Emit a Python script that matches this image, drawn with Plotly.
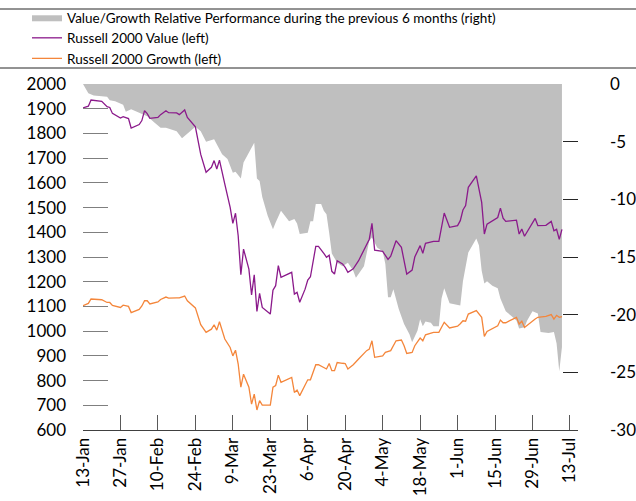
import plotly.graph_objects as go

# ---------------- data ----------------
LINE_DATES = [
    "2020-01-13", "2020-01-15", "2020-01-16", "2020-01-20", "2020-01-22", "2020-01-23", "2020-01-24",
    "2020-01-27", "2020-01-28", "2020-01-30", "2020-01-31", "2020-02-03", "2020-02-04", "2020-02-05",
    "2020-02-06", "2020-02-07", "2020-02-10", "2020-02-11", "2020-02-13", "2020-02-14", "2020-02-17",
    "2020-02-18", "2020-02-20", "2020-02-21", "2020-02-24", "2020-02-25", "2020-02-26", "2020-02-28",
    "2020-03-01", "2020-03-02", "2020-03-03", "2020-03-04", "2020-03-05", "2020-03-06", "2020-03-08",
    "2020-03-09", "2020-03-10", "2020-03-11", "2020-03-12", "2020-03-13", "2020-03-15", "2020-03-16",
    "2020-03-17", "2020-03-18", "2020-03-19", "2020-03-20", "2020-03-23", "2020-03-24", "2020-03-25",
    "2020-03-26", "2020-03-27", "2020-03-30", "2020-03-31", "2020-04-01", "2020-04-02", "2020-04-03",
    "2020-04-05", "2020-04-06", "2020-04-07", "2020-04-09", "2020-04-10", "2020-04-12", "2020-04-13",
    "2020-04-14", "2020-04-15", "2020-04-16", "2020-04-17", "2020-04-19", "2020-04-20", "2020-04-21",
    "2020-04-23", "2020-04-25", "2020-04-28", "2020-04-29", "2020-04-30", "2020-05-01", "2020-05-04",
    "2020-05-05", "2020-05-06", "2020-05-07", "2020-05-09", "2020-05-11", "2020-05-12", "2020-05-13",
    "2020-05-15", "2020-05-16", "2020-05-18", "2020-05-19", "2020-05-20", "2020-05-23", "2020-05-25",
    "2020-05-26", "2020-05-27", "2020-05-29", "2020-06-01", "2020-06-02", "2020-06-03", "2020-06-04",
    "2020-06-05", "2020-06-08", "2020-06-09", "2020-06-10", "2020-06-11", "2020-06-12", "2020-06-16",
    "2020-06-17", "2020-06-18", "2020-06-19", "2020-06-23", "2020-06-24", "2020-06-25", "2020-06-26",
    "2020-06-30", "2020-07-01", "2020-07-04", "2020-07-06", "2020-07-07", "2020-07-08", "2020-07-09",
    "2020-07-10",
]

RUSSELL_VALUE = [
    1903, 1910, 1935, 1930, 1908, 1905, 1881,
    1862, 1868, 1860, 1822, 1836, 1852, 1892,
    1880, 1861, 1865, 1876, 1892, 1884, 1883,
    1876, 1895, 1865, 1827, 1771, 1715, 1643,
    1663, 1690, 1656, 1692, 1636, 1595, 1501,
    1436, 1477, 1386, 1228, 1332, 1251, 1147,
    1228, 1080, 1153, 1096, 1069, 1166, 1184,
    1265, 1218, 1234, 1238, 1150, 1157, 1117,
    1170, 1207, 1220, 1343, 1343, 1315, 1299,
    1307, 1242, 1231, 1285, 1272, 1258, 1238,
    1252, 1285, 1352, 1372, 1436, 1328, 1323,
    1307, 1290, 1303, 1366, 1339, 1290, 1231,
    1247, 1300, 1346, 1315, 1355, 1363, 1363,
    1420, 1478, 1420, 1427, 1447, 1490, 1508,
    1582, 1628, 1575, 1521, 1393, 1433, 1460,
    1498, 1457, 1444, 1449, 1393, 1413, 1384,
    1456, 1427, 1428, 1444, 1406, 1412, 1371,
    1412,
]

RUSSELL_GROWTH = [
    1103, 1112, 1130, 1127, 1116, 1116, 1104,
    1096, 1105, 1100, 1075, 1088, 1102, 1123,
    1123, 1110, 1118, 1128, 1138, 1134, 1135,
    1135, 1142, 1123, 1094, 1056, 1026, 995,
    1008, 1026, 1004, 1038, 1002, 968, 934,
    900, 923, 867, 773, 826, 773, 705,
    745, 681, 719, 701, 701, 773, 780,
    822, 793, 806, 813, 752, 762, 739,
    780, 803, 803, 864, 864, 854, 847,
    869, 840, 840, 873, 870, 869, 847,
    864, 887, 921, 927, 961, 894, 900,
    914, 917, 921, 961, 964, 941, 910,
    914, 941, 972, 961, 985, 995, 995,
    1015, 1036, 1013, 1020, 1030, 1042, 1040,
    1069, 1083, 1069, 1056, 979, 999, 1022,
    1045, 1034, 1034, 1056, 1029, 1040, 1015,
    1049, 1056, 1060, 1067, 1049, 1064, 1056,
    1059,
]

REL_DATES = [
    "2020-01-13", "2020-01-15", "2020-01-17", "2020-01-22", "2020-01-23", "2020-01-25", "2020-01-28",
    "2020-01-29", "2020-01-31", "2020-02-03", "2020-02-06", "2020-02-09", "2020-02-11", "2020-02-13",
    "2020-02-17", "2020-02-19", "2020-02-21", "2020-02-23", "2020-02-24", "2020-02-26", "2020-02-28",
    "2020-03-02", "2020-03-05", "2020-03-07", "2020-03-09", "2020-03-10", "2020-03-12", "2020-03-13",
    "2020-03-15", "2020-03-17", "2020-03-18", "2020-03-19", "2020-03-20", "2020-03-22", "2020-03-24",
    "2020-03-25", "2020-03-27", "2020-03-28", "2020-03-29", "2020-03-30", "2020-04-01", "2020-04-02",
    "2020-04-03", "2020-04-06", "2020-04-07", "2020-04-08", "2020-04-09", "2020-04-11", "2020-04-12",
    "2020-04-13", "2020-04-14", "2020-04-15", "2020-04-17", "2020-04-19", "2020-04-21", "2020-04-23",
    "2020-04-24", "2020-04-26", "2020-04-27", "2020-04-29", "2020-04-30", "2020-05-02", "2020-05-04",
    "2020-05-05", "2020-05-06", "2020-05-07", "2020-05-08", "2020-05-10", "2020-05-12", "2020-05-14",
    "2020-05-15", "2020-05-17", "2020-05-18", "2020-05-19", "2020-05-20", "2020-05-22", "2020-05-23",
    "2020-05-25", "2020-05-26", "2020-05-27", "2020-05-29", "2020-06-02", "2020-06-03", "2020-06-05",
    "2020-06-08", "2020-06-09", "2020-06-10", "2020-06-11", "2020-06-12", "2020-06-14", "2020-06-16",
    "2020-06-17", "2020-06-19", "2020-06-21", "2020-06-23", "2020-06-24", "2020-06-26", "2020-06-27",
    "2020-06-29", "2020-07-01", "2020-07-02", "2020-07-05", "2020-07-07", "2020-07-08", "2020-07-09",
    "2020-07-10",
]

REL_PERF = [
    0.0, -0.8, -1.0, -1.1, -1.4, -1.5, -1.8,
    -2.4, -2.2, -2.5, -2.8, -3.4, -3.8, -3.8,
    -4.1, -4.7, -4.3, -3.9, -3.7, -4.1, -5.0,
    -4.8, -6.1, -6.5, -7.7, -7.6, -8.2, -6.8,
    -5.9, -5.1, -8.2, -8.4, -9.8, -11.4, -12.6,
    -12.0, -11.0, -11.3, -11.7, -11.9, -11.7, -12.1,
    -13.0, -12.9, -11.9, -11.9, -10.4, -10.4, -11.0,
    -11.3, -12.9, -14.7, -15.5, -15.8, -15.5, -16.2,
    -16.8, -16.2, -15.8, -13.6, -13.3, -14.2, -14.5,
    -15.6, -18.5, -18.5, -17.8, -19.5, -20.8, -21.7,
    -22.4, -21.4, -20.4, -21.0, -20.6, -20.7, -21.0,
    -21.0, -18.6, -17.7, -19.0, -19.2, -17.1, -14.6,
    -13.4, -14.0, -16.2, -17.3, -17.1, -17.5, -17.7,
    -18.6, -19.7, -20.1, -20.5, -21.2, -21.1, -20.5,
    -19.7, -19.9, -21.5, -21.6, -21.5, -22.5, -24.9,
    -22.8,
]

LEFT_TICKS = [600, 700, 800, 900, 1000, 1100, 1200, 1300, 1400, 1500, 1600, 1700, 1800, 1900, 2000]
RIGHT_TICKS = [-30, -25, -20, -15, -10, -5, 0]
RIGHT_LABELS = ["-30", "-25", "-20", "-15", "-10", "-5", "0"]
X_TICKS = ["2020-01-13", "2020-01-27", "2020-02-10", "2020-02-24", "2020-03-09", "2020-03-23",
           "2020-04-06", "2020-04-20", "2020-05-04", "2020-05-18", "2020-06-01", "2020-06-15",
           "2020-06-29", "2020-07-13"]
X_LABELS = ["13-Jan", "27-Jan", "10-Feb", "24-Feb", "9-Mar", "23-Mar", "6-Apr", "20-Apr",
            "4-May", "18-May", "1-Jun", "15-Jun", "29-Jun", "13-Jul"]

FONT = "Lato"

fig = go.Figure()

fig.add_trace(go.Scatter(
    x=REL_DATES, y=REL_PERF, yaxis="y", mode="lines", fill="tozeroy",
    fillcolor="#bfbfbf", line=dict(width=0, color="#bfbfbf"),
    name="Value/Growth Relative Performance during the previous 6 months (right)",
))
fig.add_trace(go.Scatter(
    x=LINE_DATES, y=RUSSELL_VALUE, yaxis="y2", mode="lines",
    line=dict(color="#8b1a8b", width=1.3), name="Russell 2000 Value (left)",
))
fig.add_trace(go.Scatter(
    x=LINE_DATES, y=RUSSELL_GROWTH, yaxis="y2", mode="lines",
    line=dict(color="#f4863b", width=1.3), name="Russell 2000 Growth (left)",
))

W, H = 636, 501
ML, MR, MT, MB = 83, 58, 84, 71
PW, PH = W - ML - MR, H - MT - MB


def px(xp):
    return (xp - ML) / PW


def py(yp):
    return (H - MB - yp) / PH


fig.update_layout(
    width=W, height=H,
    margin=dict(l=ML, r=MR, t=MT, b=MB, pad=0, autoexpand=False),
    paper_bgcolor="white", plot_bgcolor="white",
    font=dict(family=FONT, size=17, color="#000000"),
    showlegend=True,
    legend=dict(
        x=px(27), y=py(2), xanchor="left", yanchor="top",
        font=dict(family=FONT, size=13.5, color="#000000"),
        bgcolor="rgba(0,0,0,0)", itemwidth=30, tracegroupgap=0,
    ),
    xaxis=dict(
        type="date", range=["2020-01-13", "2020-07-16"],
        tickvals=X_TICKS, ticktext=X_LABELS, tickangle=-90,
        ticks="inside", ticklen=15, tickcolor="#595959", tickwidth=1,
        showline=True, linecolor="#404040", linewidth=1,
        showgrid=False, zeroline=False,
        tickfont=dict(family=FONT, size=17),
    ),
    yaxis=dict(
        range=[-30, 0], side="right", tickvals=RIGHT_TICKS, ticktext=RIGHT_LABELS,
        ticks="inside", ticklen=15, tickcolor="#262626", tickwidth=1,
        showline=False, showgrid=False, zeroline=False,
        ticklabelstandoff=31,
        tickfont=dict(family=FONT, size=17),
    ),
    yaxis2=dict(
        range=[600, 2000], side="left", overlaying="y", tickvals=LEFT_TICKS,
        ticks="inside", ticklen=25, tickcolor="#7f7f7f", tickwidth=1,
        showline=False, showgrid=False, zeroline=False,
        ticklabelstandoff=16,
        tickfont=dict(family=FONT, size=17),
    ),
    shapes=[
        dict(type="line", xref="paper", yref="paper", x0=px(0), x1=px(W), y0=py(9), y1=py(9),
             line=dict(color="#262626", width=1)),
        dict(type="line", xref="paper", yref="paper", x0=px(0), x1=px(W), y0=py(68), y1=py(68),
             line=dict(color="#262626", width=1)),
    ],
)

fig.write_html("out.html", config={"displayModeBar": False},
               post_script="document.body.style.margin='0px';")
